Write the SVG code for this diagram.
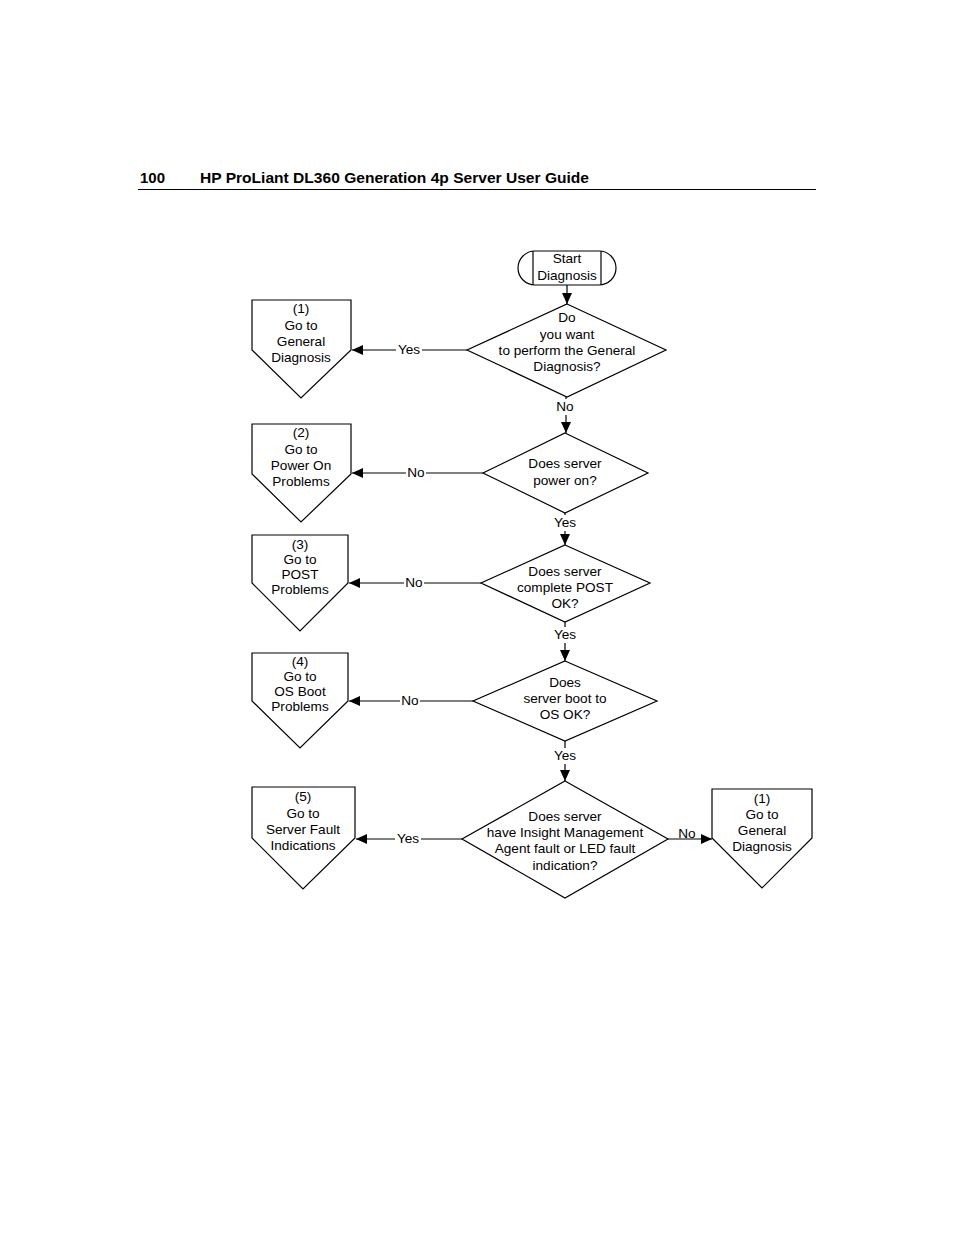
<svg xmlns="http://www.w3.org/2000/svg" width="954" height="1235" viewBox="0 0 954 1235">
<style>
.s{fill:#fff;stroke:#000;stroke-width:1.2}
.t{font-family:"Liberation Sans",Arial,sans-serif;font-size:13.6px;fill:#000;text-anchor:middle}
.l{stroke:#000;stroke-width:1.2;fill:none}
.bg{fill:#fff}
.h{font-family:"Liberation Sans",Arial,sans-serif;font-size:15px;font-weight:bold;fill:#000}
</style>
<defs>
<marker id="a" markerWidth="12" markerHeight="10" refX="11" refY="5" orient="auto" markerUnits="userSpaceOnUse">
<path d="M0,0 L11,5 L0,10 Z" fill="#000"/>
</marker>
</defs>
<rect width="954" height="1235" fill="#fff"/>
<g id="header">
<text class="h" x="140" y="183">100</text>
<text class="h" x="200" y="183" textLength="389" lengthAdjust="spacingAndGlyphs">HP ProLiant DL360 Generation 4p Server User Guide</text>
<line x1="138" y1="189.5" x2="816" y2="189.5" stroke="#000" stroke-width="1"/>
</g>
<g id="connectors">
<line class="l" x1="567" y1="285" x2="567" y2="304" marker-end="url(#a)"/>
<line class="l" x1="467" y1="350" x2="352" y2="350" marker-end="url(#a)"/>
<rect class="bg" x="396" y="341" width="26" height="16"/>
<text class="t" x="409" y="354">Yes</text>
<line class="l" x1="566" y1="397" x2="566" y2="433" marker-end="url(#a)"/>
<rect class="bg" x="553" y="399" width="26" height="16"/>
<text class="t" x="565" y="411">No</text>
<line class="l" x1="483" y1="473" x2="352" y2="473" marker-end="url(#a)"/>
<rect class="bg" x="406" y="465" width="20" height="16"/>
<text class="t" x="416" y="477">No</text>
<line class="l" x1="565" y1="513" x2="565" y2="545" marker-end="url(#a)"/>
<rect class="bg" x="551" y="515" width="28" height="16"/>
<text class="t" x="565" y="527">Yes</text>
<line class="l" x1="481" y1="583" x2="349" y2="583" marker-end="url(#a)"/>
<rect class="bg" x="404" y="575" width="20" height="16"/>
<text class="t" x="414" y="587">No</text>
<line class="l" x1="565" y1="622" x2="565" y2="661" marker-end="url(#a)"/>
<rect class="bg" x="551" y="627" width="28" height="16"/>
<text class="t" x="565" y="639">Yes</text>
<line class="l" x1="473" y1="701" x2="349" y2="701" marker-end="url(#a)"/>
<rect class="bg" x="400" y="693" width="20" height="16"/>
<text class="t" x="410" y="705">No</text>
<line class="l" x1="565" y1="741" x2="565" y2="781" marker-end="url(#a)"/>
<rect class="bg" x="551" y="748" width="28" height="16"/>
<text class="t" x="565" y="760">Yes</text>
<line class="l" x1="462" y1="839" x2="356" y2="839" marker-end="url(#a)"/>
<rect class="bg" x="395" y="831" width="26" height="16"/>
<text class="t" x="408" y="843">Yes</text>
<line class="l" x1="668" y1="839" x2="712" y2="839" marker-end="url(#a)"/>
<rect class="bg" x="678" y="827" width="18" height="11"/>
<text class="t" x="687" y="838">No</text>
</g>
<g id="start">
<path class="s" d="M535,251 H599 A17,17 0 0 1 599,285 H535 A17,17 0 0 1 535,251 Z"/>
<line class="l" x1="533" y1="251" x2="533" y2="285"/>
<line class="l" x1="601" y1="251" x2="601" y2="285"/>
<text class="t" x="567" y="263">Start</text>
<text class="t" x="567" y="280">Diagnosis</text>
</g>
<g id="d1">
<polygon class="s" points="567,304 666,350 567,397 467,350"/>
<text class="t" x="567" y="322">Do</text>
<text class="t" x="567" y="339">you want</text>
<text class="t" x="567" y="355">to perform the General</text>
<text class="t" x="567" y="371">Diagnosis?</text>
</g>
<g id="p1">
<polygon class="s" points="252,300 351,300 351,350 301,398 252,350"/>
<text class="t" x="301" y="313">(1)</text>
<text class="t" x="301" y="330">Go to</text>
<text class="t" x="301" y="346">General</text>
<text class="t" x="301" y="362">Diagnosis</text>
</g>
<g id="d2">
<polygon class="s" points="565,433 648,473 565,513 483,473"/>
<text class="t" x="565" y="468">Does server</text>
<text class="t" x="565" y="485">power on?</text>
</g>
<g id="p2">
<polygon class="s" points="252,424 351,424 351,474 301,522 252,474"/>
<text class="t" x="301" y="437">(2)</text>
<text class="t" x="301" y="454">Go to</text>
<text class="t" x="301" y="470">Power On</text>
<text class="t" x="301" y="486">Problems</text>
</g>
<g id="d3">
<polygon class="s" points="565,545 650,583 565,622 481,583"/>
<text class="t" x="565" y="576">Does server</text>
<text class="t" x="565" y="592">complete POST</text>
<text class="t" x="565" y="608">OK?</text>
</g>
<g id="p3">
<polygon class="s" points="252,535 348,535 348,583 300,631 252,583"/>
<text class="t" x="300" y="549">(3)</text>
<text class="t" x="300" y="564">Go to</text>
<text class="t" x="300" y="579">POST</text>
<text class="t" x="300" y="594">Problems</text>
</g>
<g id="d4">
<polygon class="s" points="565,661 657,701 565,741 473,701"/>
<text class="t" x="565" y="687">Does</text>
<text class="t" x="565" y="703">server boot to</text>
<text class="t" x="565" y="719">OS OK?</text>
</g>
<g id="p4">
<polygon class="s" points="252,653 348,653 348,701 300,748 252,701"/>
<text class="t" x="300" y="666">(4)</text>
<text class="t" x="300" y="681">Go to</text>
<text class="t" x="300" y="696">OS Boot</text>
<text class="t" x="300" y="711">Problems</text>
</g>
<g id="d5">
<polygon class="s" points="565,781 668,839 565,898 462,839"/>
<text class="t" x="565" y="821">Does server</text>
<text class="t" x="565" y="837">have Insight Management</text>
<text class="t" x="565" y="853">Agent fault or LED fault</text>
<text class="t" x="565" y="870">indication?</text>
</g>
<g id="p5">
<polygon class="s" points="252,787 355,787 355,838 303,889 252,838"/>
<text class="t" x="303" y="801">(5)</text>
<text class="t" x="303" y="818">Go to</text>
<text class="t" x="303" y="834">Server Fault</text>
<text class="t" x="303" y="850">Indications</text>
</g>
<g id="p6">
<polygon class="s" points="712,789 812,789 812,838 762,888 712,838"/>
<text class="t" x="762" y="803">(1)</text>
<text class="t" x="762" y="819">Go to</text>
<text class="t" x="762" y="835">General</text>
<text class="t" x="762" y="851">Diagnosis</text>
</g>
</svg>
